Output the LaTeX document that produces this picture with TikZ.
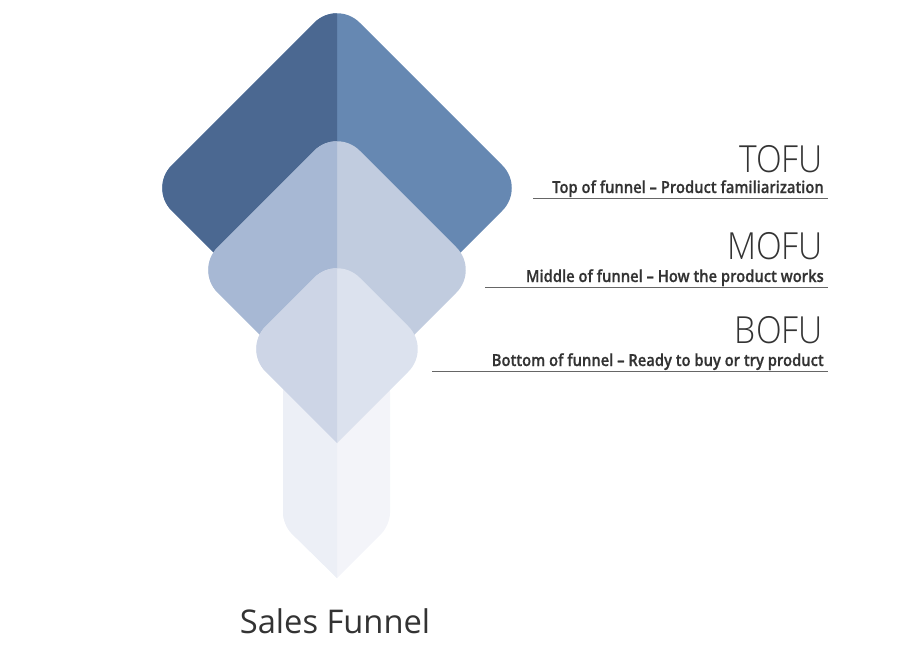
\documentclass[tikz,border=0pt]{standalone}
\usepackage{fontspec}
\setmainfont{Open Sans}
\newfontfamily\lightfont{Open Sans Light}[FakeStretch=0.9]
\newfontfamily\semifont{Open Sans Semibold}[FakeStretch=0.885,FakeBold=0.6]
\definecolor{bigL}{HTML}{4B6891}
\definecolor{bigR}{HTML}{6688B2}
\definecolor{midL}{HTML}{A7B8D4}
\definecolor{midR}{HTML}{C1CCDF}
\definecolor{smlL}{HTML}{CDD5E6}
\definecolor{smlR}{HTML}{DCE2EE}
\definecolor{stmL}{HTML}{ECEFF6}
\definecolor{stmR}{HTML}{F3F4F9}
\definecolor{txt}{HTML}{333333}
\definecolor{rule}{HTML}{666666}
\tikzset{
  head/.style={font=\lightfont\fontsize{28}{30}\selectfont, text=txt, anchor=base east, inner sep=0pt},
  sub/.style={font=\semifont\fontsize{12.5}{14}\selectfont, text=txt, anchor=base east, inner sep=0pt},
  ulin/.style={draw=rule, line width=0.75pt},
  title/.style={font=\fontsize{24.5}{28}\selectfont, text=txt, anchor=base, inner sep=0pt}
}
\newcommand{\halves}[3]{%
  \fill[#2] #1;
  \begin{scope}
    \clip (0,0) rectangle (337,667);
    \fill[#3] #1;
  \end{scope}}
\begin{document}
\begin{tikzpicture}[x=0.75pt,y=-0.75pt]
\useasboundingbox (0,0) rectangle (900,667);
% big diamond
\halves{[rounded corners=24pt] (337,0) -- (525,188) -- (337,376) -- (149,188) -- cycle}{bigR}{bigL}
% middle diamond
\halves{[rounded corners=24pt] (337,128) -- (479,270) -- (337,412) -- (195,270) -- cycle}{midR}{midL}
% stem
\halves{(337,578) [rounded corners=9pt] -- (390,525) -- (390,380) -- (283,380) -- (283,525) -- (337,578)}{stmR}{stmL}
% small diamond
\halves{(337,443) [rounded corners=24pt] -- (431,349) -- (337,255) -- (243,349) -- (337,443)}{smlR}{smlL}

\node[head] (tofu) at (823,172) {TOFU};
\node[sub] (tofus) at (824,193) {Top of funnel – Product familiarization};
\coordinate (t1) at (533,198); \coordinate (t2) at (828,198);
\draw[ulin] (t1) -- (t2);

\node[head] (mofu) at (823,259) {MOFU};
\node[sub] (mofus) at (824,282) {Middle of funnel – How the product works};
\coordinate (m1) at (485,287); \coordinate (m2) at (828,287);
\draw[ulin] (m1) -- (m2);

\node[head] (bofu) at (823,343) {BOFU};
\node[sub] (bofus) at (824,366) {Bottom of funnel – Ready to buy or try product};
\coordinate (b1) at (432,371); \coordinate (b2) at (828,371);
\draw[ulin] (b1) -- (b2);

\node[title] (ttl) at (335,633) {Sales Funnel};
\end{tikzpicture}
\end{document}
